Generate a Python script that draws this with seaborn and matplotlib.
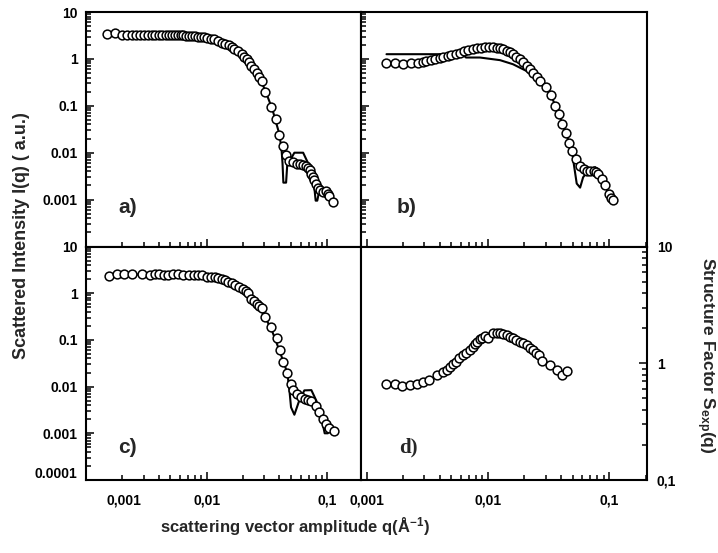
import numpy as np
import pandas as pd
import matplotlib
matplotlib.use("Agg")
import matplotlib.pyplot as plt
import matplotlib.transforms as mtrans
from matplotlib.ticker import LogLocator, NullFormatter, FixedLocator
import seaborn as sns

# ---- data ----
# panel a) measured intensity (circles) and model (line)
qa = [0.00149, 0.00174, 0.0020, 0.0022, 0.0024, 0.0026, 0.0028, 0.0030, 0.00325, 0.0035,
      0.00375, 0.0040, 0.0043, 0.0046, 0.0049, 0.0052, 0.0055, 0.0058, 0.0061, 0.0064,
      0.0068, 0.0072, 0.0076, 0.0080, 0.0085, 0.0090, 0.0095, 0.0100, 0.0108, 0.0116,
      0.0124, 0.0133, 0.0142, 0.0152, 0.0161, 0.0170, 0.0182, 0.0195, 0.0204, 0.0214,
      0.0224, 0.0235, 0.0247, 0.0259, 0.0271, 0.0285, 0.0307, 0.0340, 0.0372, 0.0400,
      0.0430, 0.0458, 0.0485, 0.0520, 0.0555, 0.0590, 0.0630, 0.0660, 0.0693, 0.0715,
      0.0737, 0.0760, 0.0780, 0.0810, 0.0837, 0.0870, 0.0920, 0.0980, 0.1010, 0.1040, 0.1110]
Ia = [3.45, 3.5, 3.2, 3.2, 3.2, 3.2, 3.2, 3.2, 3.2, 3.2,
      3.2, 3.2, 3.2, 3.2, 3.2, 3.2, 3.2, 3.2, 3.2, 3.2,
      3.15, 3.15, 3.1, 3.05, 3.0, 2.95, 2.9, 2.76, 2.7, 2.62,
      2.45, 2.22, 2.1, 1.96, 1.8, 1.61, 1.45, 1.26, 1.12, 0.99,
      0.85, 0.71, 0.6, 0.51, 0.42, 0.34, 0.20, 0.095, 0.053, 0.024,
      0.0137, 0.0091, 0.0066, 0.0062, 0.0058, 0.0057, 0.0056, 0.0052, 0.0047, 0.0042,
      0.0036, 0.0031, 0.0026, 0.0021, 0.0018, 0.0016, 0.00142, 0.00155, 0.0013, 0.00117, 0.00091]
qa_fit = [0.0015, 0.003, 0.006, 0.01, 0.015, 0.02, 0.025, 0.03, 0.035, 0.040, 0.0417,
          0.0425, 0.0432, 0.0455, 0.0466, 0.0485, 0.0533, 0.063, 0.0696, 0.074, 0.078,
          0.080, 0.0825, 0.086, 0.092, 0.098]
Ia_fit = [3.4, 3.2, 3.2, 2.8, 1.95, 1.2, 0.56, 0.24, 0.085, 0.025, 0.012,
          0.006, 0.0023, 0.0023, 0.006, 0.0065, 0.0100, 0.0100, 0.0058, 0.003, 0.0018,
          0.00095, 0.00095, 0.0016, 0.0014, 0.0013]

# panel b)
qb = [0.00146, 0.00171, 0.0020, 0.00234, 0.00266, 0.0029, 0.0031, 0.0034, 0.00365, 0.0040,
      0.0043, 0.0047, 0.0050, 0.0055, 0.0059, 0.0064, 0.0069, 0.0075, 0.0081, 0.0088,
      0.0094, 0.0102, 0.0111, 0.0118, 0.0126, 0.0134, 0.0143, 0.0152, 0.0162, 0.0172,
      0.0184, 0.0196, 0.0209, 0.0222, 0.0237, 0.0252, 0.0269, 0.0300, 0.0330, 0.0358,
      0.0386, 0.0411, 0.0439, 0.0467, 0.0498, 0.0534, 0.0576, 0.0615, 0.0655, 0.0700,
      0.0744, 0.0780, 0.0816, 0.0870, 0.0930, 0.0990, 0.1030, 0.1070]
Ib = [0.83, 0.83, 0.77, 0.80, 0.83, 0.86, 0.90, 0.94, 0.98, 1.04,
      1.10, 1.16, 1.22, 1.29, 1.36, 1.45, 1.53, 1.60, 1.69, 1.75,
      1.80, 1.82, 1.80, 1.75, 1.69, 1.60, 1.48, 1.38, 1.26, 1.12,
      0.99, 0.85, 0.71, 0.60, 0.51, 0.42, 0.34, 0.25, 0.171, 0.10,
      0.066, 0.041, 0.026, 0.0165, 0.0107, 0.0074, 0.0053, 0.0046, 0.0041, 0.0040,
      0.0040, 0.0038, 0.0035, 0.0028, 0.0020, 0.0013, 0.0011, 0.0010]
qb_fit = [0.00146, 0.0059, 0.0063, 0.0066, 0.0086, 0.0126, 0.0161, 0.0209, 0.0237, 0.0269,
          0.033, 0.0386, 0.0439, 0.0498, 0.0506, 0.054, 0.0576, 0.061, 0.0697, 0.0766,
          0.0816, 0.087, 0.093, 0.099]
Ib_fit = [1.26, 1.26, 1.20, 1.07, 1.07, 0.94, 0.77, 0.55, 0.48, 0.34,
          0.171, 0.066, 0.026, 0.0107, 0.0068, 0.0022, 0.0018, 0.003, 0.0046, 0.0049,
          0.0036, 0.0028, 0.0020, 0.0013]

# panel c)
qc = [0.00154, 0.0018, 0.00205, 0.0024, 0.0029, 0.0034, 0.0037, 0.0040, 0.0044, 0.0048,
      0.0053, 0.0058, 0.0064, 0.0071, 0.0078, 0.0085, 0.0092, 0.0100, 0.0108, 0.0117,
      0.0125, 0.0133, 0.0142, 0.0151, 0.0161, 0.0171, 0.0185, 0.0200, 0.0210, 0.0221,
      0.0235, 0.0247, 0.0259, 0.0271, 0.0285, 0.0307, 0.0340, 0.0379, 0.0403, 0.0430,
      0.0466, 0.0496, 0.0520, 0.0565, 0.0610, 0.0650, 0.0690, 0.0737, 0.0810, 0.0860,
      0.0920, 0.0980, 0.1040, 0.1130]
Ic = [2.39, 2.6, 2.6, 2.6, 2.6, 2.47, 2.55, 2.6, 2.5, 2.5,
      2.55, 2.55, 2.5, 2.5, 2.47, 2.47, 2.45, 2.2, 2.2, 2.2,
      2.1, 2.04, 1.9, 1.76, 1.62, 1.5, 1.35, 1.21, 1.1, 1.03,
      0.77, 0.68, 0.59, 0.52, 0.48, 0.31, 0.19, 0.108, 0.061, 0.034,
      0.0197, 0.0116, 0.0084, 0.0069, 0.006, 0.0054, 0.0052, 0.0050, 0.0039, 0.0028,
      0.0020, 0.0016, 0.0013, 0.0011]
qc_fit = [0.0015, 0.003, 0.006, 0.01, 0.015, 0.02, 0.025, 0.03, 0.035, 0.040, 0.0466,
          0.0485, 0.050, 0.0533, 0.0586, 0.0645, 0.0737, 0.081, 0.0893, 0.095, 0.101]
Ic_fit = [2.4, 2.55, 2.5, 2.25, 1.78, 1.21, 0.65, 0.34, 0.15, 0.06, 0.0197,
          0.0083, 0.0036, 0.0025, 0.0051, 0.0083, 0.0084, 0.005, 0.0022, 0.0010, 0.0010]

# panel d) structure factor
qd = [0.00146, 0.00171, 0.00197, 0.00227, 0.0026, 0.0029, 0.0033, 0.0038, 0.0043, 0.0046,
      0.0049, 0.0052, 0.0055, 0.0058, 0.0062, 0.0066, 0.0071, 0.0075, 0.0078, 0.0082,
      0.0086, 0.0090, 0.0094, 0.0101, 0.0111, 0.0118, 0.0126, 0.0134, 0.0143, 0.0152,
      0.0162, 0.0172, 0.0184, 0.0196, 0.0209, 0.0222, 0.0237, 0.0250, 0.0265, 0.0278,
      0.0326, 0.0370, 0.0406, 0.0447]
Sd = [0.668, 0.668, 0.634, 0.646, 0.66, 0.69, 0.72, 0.79, 0.84, 0.88,
      0.93, 0.98, 1.03, 1.10, 1.17, 1.22, 1.29, 1.37, 1.45, 1.52,
      1.60, 1.66, 1.71, 1.63, 1.80, 1.82, 1.80, 1.77, 1.74, 1.68,
      1.63, 1.58, 1.53, 1.48, 1.43, 1.36, 1.29, 1.23, 1.17, 1.05,
      0.96, 0.87, 0.80, 0.86]

panel_names = ["a)", "b)", "c)", "d)"]
y_major = [1e-4, 1e-3, 1e-2, 1e-1, 1, 10]
y_major_labels = ["0.0001", "0.001", "0.01", "0.1", "1", "10"]
x_major = [0.001, 0.01, 0.1]
x_major_labels = ["0,001", "0,01", "0,1"]
s_major = [0.1, 1, 10]
s_major_labels = ["0,1", "1", "10"]

# ---- style ----
sns.set_style("ticks", {"xtick.direction": "in", "ytick.direction": "in",
                        "xtick.color": "black", "ytick.color": "black"})
plt.rcParams["font.family"] = ["Liberation Sans", "DejaVu Sans"]
plt.rcParams["font.weight"] = "bold"
plt.rcParams["mathtext.fontset"] = "custom"
plt.rcParams["mathtext.rm"] = "Liberation Sans:bold"
plt.rcParams["mathtext.bf"] = "Liberation Sans:bold"
plt.rcParams["mathtext.it"] = "Liberation Sans:bold"

fig = plt.figure(figsize=(7.18, 5.53), dpi=100)
L, M, R = 86 / 718, 361 / 718, 647 / 718
T, C, B = 1 - 12 / 553, 1 - 246.5 / 553, 1 - 480 / 553
ax_a = fig.add_axes([L, C, M - L, T - C])
ax_b = fig.add_axes([M, C, R - M, T - C])
ax_c = fig.add_axes([L, B, M - L, C - B])
ax_d = fig.add_axes([M, B, R - M, C - B])

marker_kw = dict(marker="o", s=40, facecolor="white", edgecolor="black", linewidth=1.1, zorder=3)
line_kw = dict(color="black", linewidth=1.5, sort=False, estimator=None, zorder=2)

for ax, q, I, qf, If in [(ax_a, qa, Ia, qa_fit, Ia_fit),
                         (ax_b, qb, Ib, qb_fit, Ib_fit),
                         (ax_c, qc, Ic, qc_fit, Ic_fit)]:
    sns.lineplot(x=qf, y=If, ax=ax, **line_kw)
    sns.scatterplot(x=q, y=I, ax=ax, **marker_kw)
sns.scatterplot(x=qd, y=Sd, ax=ax_d, **marker_kw)

minor_subs = np.arange(2, 10)
for ax in [ax_a, ax_b, ax_c, ax_d]:
    ax.set_xscale("log")
    ax.set_yscale("log")
    ax.set_xlabel("")
    ax.set_ylabel("")
    for sp in ax.spines.values():
        sp.set_visible(True)
        sp.set_linewidth(1.5)
        sp.set_color("black")
        sp.set_zorder(5)
    ax.xaxis.set_major_locator(FixedLocator(x_major))
    ax.xaxis.set_minor_locator(LogLocator(base=10, subs=minor_subs, numticks=20))
    ax.xaxis.set_minor_formatter(NullFormatter())

for ax in [ax_a, ax_c]:
    ax.set_xlim(0.001, 0.19)
for ax in [ax_b, ax_d]:
    ax.set_xlim(0.0009, 0.205)

for ax in [ax_a, ax_b, ax_c]:
    ax.set_ylim(1e-4, 10)
    ax.yaxis.set_major_locator(FixedLocator(y_major))
    ax.yaxis.set_minor_locator(LogLocator(base=10, subs=minor_subs, numticks=20))
    ax.yaxis.set_minor_formatter(NullFormatter())

ax_d.set_ylim(0.1, 10)
ax_d.yaxis.set_major_locator(FixedLocator(s_major))
ax_d.yaxis.set_minor_locator(LogLocator(base=10, subs=minor_subs, numticks=20))
ax_d.yaxis.set_minor_formatter(NullFormatter())

# tick appearance: all inward, only bottom / left (right for S(q))
for ax in [ax_a, ax_b, ax_c, ax_d]:
    ax.tick_params(which="both", direction="in", colors="black", width=1.1,
                   labelsize=10, bottom=True, top=False, left=True, right=False, pad=6)
    ax.tick_params(which="major", length=6)
    ax.tick_params(which="minor", length=3.5)
ax_d.tick_params(axis="y", which="both", left=False, right=True,
                 labelleft=False, labelright=True, pad=7)

ax_a.set_xticklabels([])
ax_b.set_xticklabels([])
ax_a.set_yticklabels([""] + y_major_labels[1:])
ax_b.set_yticklabels([])
ax_c.set_yticklabels(y_major_labels)
ax_c.set_xticklabels(x_major_labels)
ax_d.set_xticklabels(x_major_labels)
ax_d.set_yticklabels(s_major_labels)
for ax in [ax_c, ax_d]:
    ax.tick_params(axis="x", which="major", pad=10)

# nudge a few labels like in the original
lab = ax_c.get_yticklabels()[0]
lab.set_transform(lab.get_transform() + mtrans.ScaledTranslation(0, 7 / 100, fig.dpi_scale_trans))
lab = ax_c.get_xticklabels()[0]
lab.set_transform(lab.get_transform() + mtrans.ScaledTranslation(38 / 100, 0, fig.dpi_scale_trans))

# panel letters
ax_a.text(0.15, 0.165, panel_names[0], transform=ax_a.transAxes, fontsize=15, fontweight="bold",
          ha="center", va="center")
ax_b.text(0.16, 0.165, panel_names[1], transform=ax_b.transAxes, fontsize=15, fontweight="bold",
          ha="center", va="center")
ax_c.text(0.15, 0.14, panel_names[2], transform=ax_c.transAxes, fontsize=15, fontweight="bold",
          ha="center", va="center")
ax_d.text(0.165, 0.14, panel_names[3], transform=ax_d.transAxes, fontsize=15, fontweight="bold",
          family="Liberation Serif", ha="center", va="center")

fig.text(22 / 718, 1 - 236 / 553, "Scattered Intensity I(q) ( a.u.)", rotation=90,
         fontsize=13, fontweight="bold", ha="center", va="center")
fig.text(705 / 718, 1 - 355 / 553, r"Structure Factor S$_{\mathrm{exp}}$(q)", rotation=-90,
         fontsize=12.5, fontweight="bold", ha="center", va="center")
fig.text(295 / 718, 1 - 527 / 553, r"scattering vector amplitude q(Å$^{\mathrm{-1}}$)",
         fontsize=12, fontweight="bold", ha="center", va="center")

fig.savefig("out.png", dpi=100)
